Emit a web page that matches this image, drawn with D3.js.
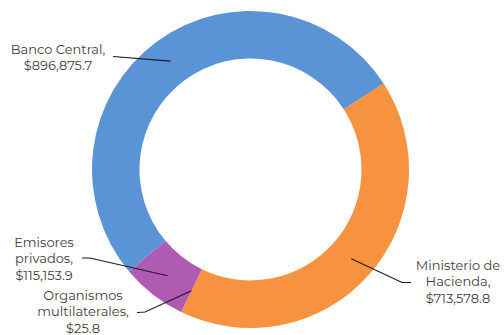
<!DOCTYPE html>
<html>
<head>
<meta charset="utf-8">
<script src="https://cdn.jsdelivr.net/npm/d3@7"></script>
<style>
  body { margin: 0; background: #fff; }
  svg text { font-family: "Montserrat", Lato, "Open Sans", sans-serif; font-size: 13px; fill: #404040; }
</style>
</head>
<body>
<svg id="chart" width="504" height="335"></svg>
<script>
// data, in drawing order (clockwise)
var categories = ['Banco Central', 'Ministerio de Hacienda', 'Organismos multilaterales', 'Emisores privados'];
var values = [896875.7, 713578.8, 25.8, 115153.9];
var colors = ['#5B94D6', '#F79240', '#B05BB3', '#B05BB3'];

// label layout: text lines, text centre x, first baseline y, leader elbow
var labels = [
  { lines: ['Banco Central,'], x: 58, y: 54, elbow: [[113, 56.5]] },
  { lines: ['Ministerio de', 'Hacienda,'], x: 458, y: 270, elbow: [[411, 282.5], [402, 282.5]] },
  { lines: ['Organismos', 'multilaterales,'], x: 83, y: 300, elbow: [[137, 312.5], [145, 312]] },
  { lines: ['Emisores', 'privados,'], x: 44, y: 247, elbow: [[82, 258], [90, 258]] }
];

var cx = 250.5, cy = 169.5, outerR = 158.5, innerR = 111;

var svg = d3.select('#chart');
var g = svg.append('g').attr('transform', 'translate(' + cx + ',' + cy + ')');

var pie = d3.pie()
  .sort(null)
  .startAngle(-130 * Math.PI / 180)
  .endAngle(230 * Math.PI / 180);

var arcs = pie(values);
var arc = d3.arc().innerRadius(innerR).outerRadius(outerR);
var mid = d3.arc().innerRadius((innerR + outerR) / 2).outerRadius((innerR + outerR) / 2);

g.selectAll('path.slice')
  .data(arcs)
  .enter()
  .append('path')
  .attr('class', 'slice')
  .attr('d', arc)
  .style('fill', function(d, i) { return colors[i]; });

var fmt = d3.format(',.1f');

for (var i = 0; i < arcs.length; ++i) {
  var lab = labels[i];
  var c = mid.centroid(arcs[i]);
  var pts = lab.elbow.slice();
  pts.push([c[0] + cx, c[1] + cy]);

  svg.append('path')
    .attr('d', d3.line()(pts))
    .attr('fill', 'none')
    .attr('stroke', '#1a1a1a')
    .attr('stroke-width', 1.1);

  var lines = lab.lines.concat(['$' + fmt(values[i])]);
  var t = svg.append('text')
    .attr('text-anchor', 'middle');
  lines.forEach(function(s, k) {
    t.append('tspan')
      .attr('x', lab.x)
      .attr('y', lab.y + k * 16.3)
      .text(s);
  });
}
</script>
</body>
</html>
